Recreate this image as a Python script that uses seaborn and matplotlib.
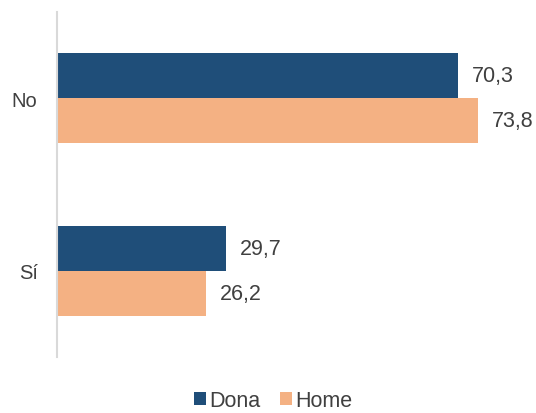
import matplotlib
matplotlib.use("Agg")
import matplotlib.pyplot as plt
import seaborn as sns
import pandas as pd
from matplotlib.patches import Patch

categories = ["No", "Sí"]
series = ["Dona", "Home"]
dona = [70.3, 29.7]
home = [73.8, 26.2]
colors = {"Dona": "#1F4E79", "Home": "#F4B183"}

df = pd.DataFrame({
    "cat": categories * 2,
    "serie": ["Dona"] * len(categories) + ["Home"] * len(categories),
    "val": dona + home,
})

sns.set_style("white")
plt.rcParams["font.family"] = ["Liberation Sans", "DejaVu Sans"]
text_color = "#404040"

fig = plt.figure(figsize=(5.36, 4.14), dpi=100)
ax = fig.add_axes([57 / 536, 1 - 358 / 414, (513 - 57) / 536, (358 - 13) / 414])

sns.barplot(data=df, y="cat", x="val", hue="serie", order=categories,
            hue_order=series, palette=colors, width=0.52, orient="h",
            ax=ax, legend=False, saturation=1, linewidth=0)

for cont in ax.containers:
    ax.bar_label(cont, labels=[f"{v:.1f}".replace(".", ",") for v in cont.datavalues],
                 padding=10, fontsize=15.5, color=text_color)

ax.set_xlim(0, 80)
ax.set_ylim(1.5, -0.5)
ax.set_xlabel("")
ax.set_ylabel("")
ax.set_xticks([])
ax.tick_params(axis="y", length=0, pad=14, labelsize=14.5, labelcolor=text_color)
for s in ["top", "right", "bottom"]:
    ax.spines[s].set_visible(False)
ax.spines["left"].set_color("#D9D9D9")
ax.spines["left"].set_linewidth(1.5)

handles = [Patch(facecolor=colors[s], edgecolor="none", label=s) for s in series]
leg = fig.legend(handles=handles, loc="center", bbox_to_anchor=(273 / 536, 1 - 402 / 414),
                 ncol=2, frameon=False, fontsize=15.5, handlelength=0.55, handleheight=0.55,
                 handletextpad=0.15, columnspacing=0.9, labelcolor=text_color,
                 borderaxespad=0, borderpad=0)

fig.savefig("out.png", dpi=100)
